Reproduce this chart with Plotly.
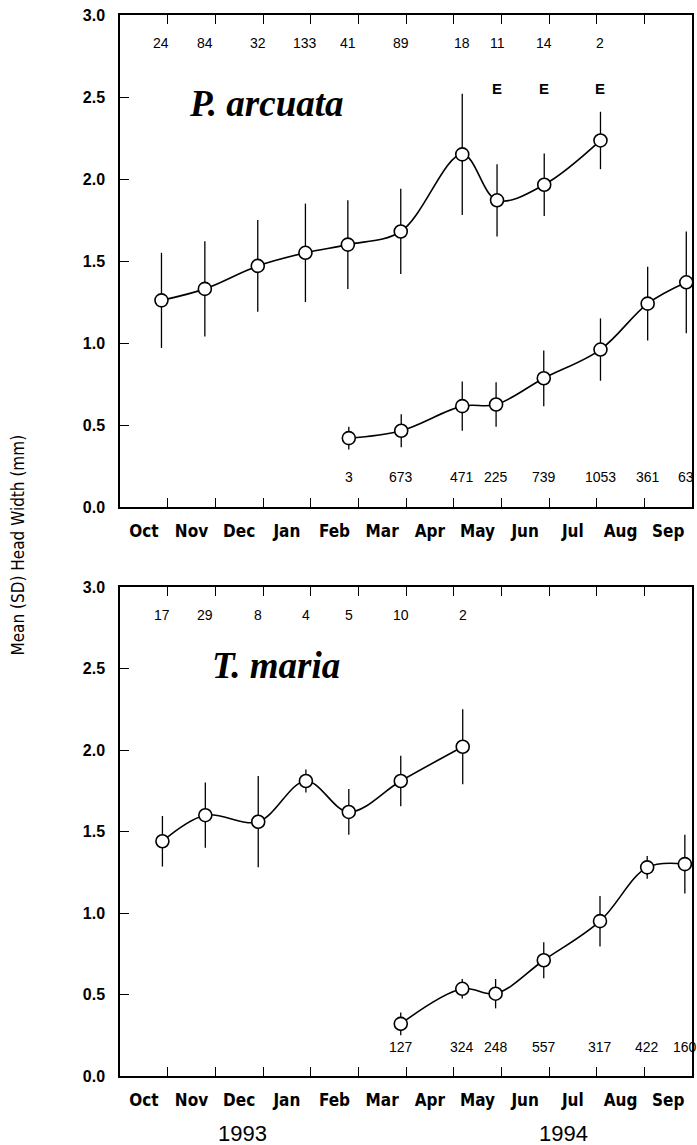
import plotly.graph_objects as go

# ---------------- data ----------------
month_labels = ["Oct", "Nov", "Dec", "Jan", "Feb", "Mar", "Apr", "May", "Jun", "Jul", "Aug", "Sep"]
year_labels = ["1993", "1994"]
year_pos = [2.57, 9.30]  # months since 1 Oct 1993

# P. arcuata, overwintering cohort (sampling date in months since 1 Oct 1993)
pa_old_t = [0.87, 1.78, 2.89, 3.89, 4.78, 5.89, 7.18, 7.91, 8.90, 10.08]
pa_old_mean = [1.26, 1.33, 1.47, 1.55, 1.60, 1.68, 2.15, 1.87, 1.965, 2.235]
pa_old_sd = [0.29, 0.29, 0.28, 0.30, 0.27, 0.26, 0.37, 0.22, 0.19, 0.175]
pa_old_n = ["24", "84", "32", "133", "41", "89", "18", "11", "14", "2"]
pa_emerged = [False, False, False, False, False, False, False, True, True, True]

# P. arcuata, new cohort
pa_new_t = [4.80, 5.90, 7.18, 7.89, 8.89, 10.08, 11.07, 11.88]
pa_new_mean = [0.42, 0.465, 0.615, 0.625, 0.785, 0.96, 1.24, 1.37]
pa_new_sd = [0.07, 0.10, 0.15, 0.135, 0.17, 0.19, 0.225, 0.31]
pa_new_n = ["3", "673", "471", "225", "739", "1053", "361", "63"]

# T. maria, overwintering cohort
tm_old_t = [0.89, 1.79, 2.90, 3.90, 4.80, 5.89, 7.19]
tm_old_mean = [1.44, 1.60, 1.56, 1.81, 1.62, 1.81, 2.02]
tm_old_sd = [0.155, 0.20, 0.28, 0.07, 0.14, 0.155, 0.23]
tm_old_n = ["17", "29", "8", "4", "5", "10", "2"]

# T. maria, new cohort
tm_new_t = [5.89, 7.18, 7.88, 8.89, 10.07, 11.06, 11.85]
tm_new_mean = [0.32, 0.535, 0.505, 0.71, 0.95, 1.28, 1.30]
tm_new_sd = [0.07, 0.06, 0.09, 0.11, 0.155, 0.07, 0.18]
tm_new_n = ["127", "324", "248", "557", "317", "422", "160"]

n_top_level = 2.83
n_bottom_level = 0.18
emerged_level = 2.55

# ---------------- figure ----------------
W, H = 697, 1145
fig = go.Figure()

SANS = "Liberation Sans, Arial, sans-serif"
NARROW = "DejaVu Sans Condensed, Liberation Sans Narrow, Arial Narrow, Liberation Sans, sans-serif"
SERIF = "Liberation Serif, Times New Roman, serif"

month_mid = [i + 0.5 for i in range(len(month_labels))]
month_bounds = list(range(1, len(month_labels)))


def add_series(t, m, sd, xa, ya):
    fig.add_trace(go.Scatter(
        x=t, y=m, xaxis=xa, yaxis=ya, mode="lines+markers",
        line=dict(color="black", width=1.6, shape="spline", smoothing=1.0),
        marker=dict(symbol="circle", size=13, color="white",
                    line=dict(color="black", width=1.6)),
        error_y=dict(type="data", array=sd, visible=True, color="black",
                     thickness=1.3, width=0),
        showlegend=False, hoverinfo="x+y",
    ))


add_series(pa_old_t, pa_old_mean, pa_old_sd, "x", "y")
add_series(pa_new_t, pa_new_mean, pa_new_sd, "x", "y")
add_series(tm_old_t, tm_old_mean, tm_old_sd, "x2", "y2")
add_series(tm_new_t, tm_new_mean, tm_new_sd, "x2", "y2")

# invisible carriers so the month-label axes are drawn
for xa, ya in (("x3", "y"), ("x4", "y2")):
    fig.add_trace(go.Scatter(x=month_mid, y=[0] * len(month_mid), xaxis=xa, yaxis=ya,
                             mode="markers", marker=dict(opacity=0),
                             hoverinfo="skip", showlegend=False))

ann = []


def count_labels(t, n, level, xr, yr):
    for xi, s in zip(t, n):
        ann.append(dict(x=xi, y=level, xref=xr, yref=yr, text=s, showarrow=False,
                        font=dict(family=SANS, size=14, color="black"),
                        xanchor="center", yanchor="middle"))


count_labels(pa_old_t, pa_old_n, n_top_level, "x", "y")
count_labels(pa_new_t, pa_new_n, n_bottom_level, "x", "y")
count_labels(tm_old_t, tm_old_n, n_top_level, "x2", "y2")
count_labels(tm_new_t, tm_new_n, n_bottom_level, "x2", "y2")

for xi, e in zip(pa_old_t, pa_emerged):
    if e:
        ann.append(dict(x=xi, y=emerged_level, xref="x", yref="y", text="<b>E</b>",
                        showarrow=False, font=dict(family=SANS, size=15, color="black"),
                        xanchor="center", yanchor="middle"))

# species names
ann.append(dict(x=1.4, y=2.46, xref="x", yref="y", text="<b><i>P. arcuata</i></b>",
                showarrow=False, xanchor="left", yanchor="middle",
                font=dict(family=SERIF, size=37, color="black")))
ann.append(dict(x=1.89, y=2.52, xref="x2", yref="y2", text="<b><i>T. maria</i></b>",
                showarrow=False, xanchor="left", yanchor="middle",
                font=dict(family=SERIF, size=37, color="black")))

# years
for yp, yl in zip(year_pos, year_labels):
    ann.append(dict(x=yp, y=-0.054, xref="x2", yref="paper", text=yl, showarrow=False,
                    xanchor="center", yanchor="middle",
                    font=dict(family=SANS, size=22, color="black")))

# y title
ann.append(dict(x=-0.18, y=0.5, xref="paper", yref="paper",
                text="Mean (SD) Head Width (mm)", textangle=-90, showarrow=False,
                xanchor="center", yanchor="middle",
                font=dict(family=NARROW, size=17, color="black")))

xaxis_common = dict(
    range=[0, 12], showgrid=False, zeroline=False,
    showline=True, linecolor="black", linewidth=1.5, mirror="ticks",
    tickmode="array", tickvals=month_bounds, showticklabels=False,
    ticks="inside", ticklen=9, tickwidth=1.3, tickcolor="black",
)
xlabel_common = dict(
    range=[0, 12], showgrid=False, zeroline=False, showline=False,
    tickmode="array", tickvals=month_mid, ticktext=month_labels, ticks="",
    side="bottom", ticklabelstandoff=12,
    tickfont=dict(family=NARROW, size=17, color="black", weight="bold"),
)
yaxis_common = dict(
    range=[0, 3], showgrid=False, zeroline=False,
    showline=True, linecolor="black", linewidth=1.5, mirror=True,
    tickmode="linear", tick0=0, dtick=0.5, tickformat=".1f",
    ticks="inside", ticklen=9, tickwidth=1.3, tickcolor="black",
    tickfont=dict(family=SANS, size=16, color="black", weight="bold"),
    ticklabelstandoff=10,
)

top_lo = (1076 - 507) / 1061
bot_hi = (1076 - 587) / 1061

fig.update_layout(
    width=W, height=H,
    margin=dict(l=120, r=3, t=15, b=69),
    paper_bgcolor="white", plot_bgcolor="white",
    xaxis=dict(domain=[0, 1], anchor="y", **xaxis_common),
    yaxis=dict(domain=[top_lo, 1], anchor="x", **yaxis_common),
    xaxis2=dict(domain=[0, 1], anchor="y2", **xaxis_common),
    yaxis2=dict(domain=[0, bot_hi], anchor="x2", **yaxis_common),
    xaxis3=dict(overlaying="x", anchor="y", **xlabel_common),
    xaxis4=dict(overlaying="x2", anchor="y2", **xlabel_common),
    annotations=ann,
    showlegend=False,
)

fig.write_html("out.html", config={"displayModeBar": False},
               post_script="document.body.style.margin='0';")
